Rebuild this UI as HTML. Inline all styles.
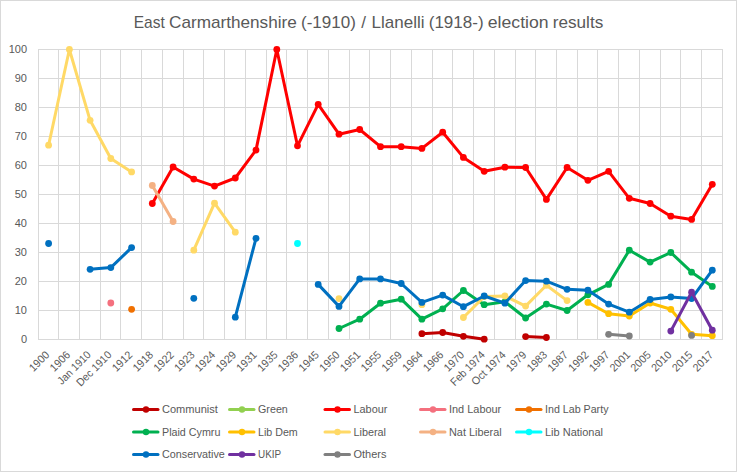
<!DOCTYPE html><html><head><meta charset="utf-8"><title>East Carmarthenshire / Llanelli election results</title><style>html,body{margin:0;padding:0;background:#fff;}svg{display:block;}text{font-family:"Liberation Sans", Arial, sans-serif;fill:#595959;}</style></head><body>
<svg width="737" height="472" viewBox="0 0 737 472">
<rect x="0.5" y="0.5" width="736" height="471" fill="#fff" stroke="#D9D9D9" stroke-width="1"/>
<text y="28" font-size="17"><tspan x="133.75" textLength="31.07" lengthAdjust="spacingAndGlyphs">East</tspan> <tspan x="169.04" textLength="127.79" lengthAdjust="spacingAndGlyphs">Carmarthenshire</tspan> <tspan x="301.04" textLength="54.85" lengthAdjust="spacingAndGlyphs">(-1910)</tspan> <tspan x="361.35">/</tspan> <tspan x="371.53" textLength="52.99" lengthAdjust="spacingAndGlyphs">Llanelli</tspan> <tspan x="428.74" textLength="54.85" lengthAdjust="spacingAndGlyphs">(1918-)</tspan> <tspan x="487.80" textLength="60.77" lengthAdjust="spacingAndGlyphs">election</tspan> <tspan x="552.79" textLength="50.47" lengthAdjust="spacingAndGlyphs">results</tspan></text>
<path d="M38.0 49.5H723.0 M38.0 78.5H723.0 M38.0 107.5H723.0 M38.0 136.5H723.0 M38.0 165.5H723.0 M38.0 194.5H723.0 M38.0 223.5H723.0 M38.0 252.5H723.0 M38.0 281.5H723.0 M38.0 310.5H723.0 M38.5 49V340 M58.5 49V340 M79.5 49V340 M100.5 49V340 M120.5 49V340 M141.5 49V340 M162.5 49V340 M183.5 49V340 M203.5 49V340 M224.5 49V340 M245.5 49V340 M266.5 49V340 M286.5 49V340 M307.5 49V340 M328.5 49V340 M349.5 49V340 M369.5 49V340 M390.5 49V340 M411.5 49V340 M432.5 49V340 M452.5 49V340 M473.5 49V340 M494.5 49V340 M515.5 49V340 M535.5 49V340 M556.5 49V340 M577.5 49V340 M597.5 49V340 M618.5 49V340 M639.5 49V340 M660.5 49V340 M680.5 49V340 M701.5 49V340 M722.5 49V340" stroke="#D9D9D9" stroke-width="1" fill="none"/>
<path d="M38.0 339.5H723.0" stroke="#D9D9D9" stroke-width="1" fill="none"/>
<text x="27" y="342.5" font-size="11" text-anchor="end">0</text>
<text x="27" y="313.5" font-size="11" text-anchor="end">10</text>
<text x="27" y="284.5" font-size="11" text-anchor="end">20</text>
<text x="27" y="255.5" font-size="11" text-anchor="end">30</text>
<text x="27" y="226.5" font-size="11" text-anchor="end">40</text>
<text x="27" y="197.5" font-size="11" text-anchor="end">50</text>
<text x="27" y="168.5" font-size="11" text-anchor="end">60</text>
<text x="27" y="139.5" font-size="11" text-anchor="end">70</text>
<text x="27" y="110.5" font-size="11" text-anchor="end">80</text>
<text x="27" y="81.5" font-size="11" text-anchor="end">90</text>
<text x="27" y="52.5" font-size="11" text-anchor="end">100</text>
<text x="50.1" y="355.5" font-size="11" text-anchor="end" textLength="23.53" lengthAdjust="spacingAndGlyphs" transform="rotate(-45 50.1 355.5)">1900</text>
<text x="70.9" y="355.5" font-size="11" text-anchor="end" textLength="23.53" lengthAdjust="spacingAndGlyphs" transform="rotate(-45 70.9 355.5)">1906</text>
<text x="91.6" y="355.5" font-size="11" text-anchor="end" textLength="42.12" lengthAdjust="spacingAndGlyphs" transform="rotate(-45 91.6 355.5)">Jan 1910</text>
<text x="112.3" y="355.5" font-size="11" text-anchor="end" textLength="44.67" lengthAdjust="spacingAndGlyphs" transform="rotate(-45 112.3 355.5)">Dec 1910</text>
<text x="133.1" y="355.5" font-size="11" text-anchor="end" textLength="23.53" lengthAdjust="spacingAndGlyphs" transform="rotate(-45 133.1 355.5)">1912</text>
<text x="153.8" y="355.5" font-size="11" text-anchor="end" textLength="23.53" lengthAdjust="spacingAndGlyphs" transform="rotate(-45 153.8 355.5)">1918</text>
<text x="174.6" y="355.5" font-size="11" text-anchor="end" textLength="23.53" lengthAdjust="spacingAndGlyphs" transform="rotate(-45 174.6 355.5)">1922</text>
<text x="195.3" y="355.5" font-size="11" text-anchor="end" textLength="23.53" lengthAdjust="spacingAndGlyphs" transform="rotate(-45 195.3 355.5)">1923</text>
<text x="216.0" y="355.5" font-size="11" text-anchor="end" textLength="23.53" lengthAdjust="spacingAndGlyphs" transform="rotate(-45 216.0 355.5)">1924</text>
<text x="236.8" y="355.5" font-size="11" text-anchor="end" textLength="23.53" lengthAdjust="spacingAndGlyphs" transform="rotate(-45 236.8 355.5)">1929</text>
<text x="257.5" y="355.5" font-size="11" text-anchor="end" textLength="23.53" lengthAdjust="spacingAndGlyphs" transform="rotate(-45 257.5 355.5)">1931</text>
<text x="278.3" y="355.5" font-size="11" text-anchor="end" textLength="23.53" lengthAdjust="spacingAndGlyphs" transform="rotate(-45 278.3 355.5)">1935</text>
<text x="299.0" y="355.5" font-size="11" text-anchor="end" textLength="23.53" lengthAdjust="spacingAndGlyphs" transform="rotate(-45 299.0 355.5)">1936</text>
<text x="319.7" y="355.5" font-size="11" text-anchor="end" textLength="23.53" lengthAdjust="spacingAndGlyphs" transform="rotate(-45 319.7 355.5)">1945</text>
<text x="340.5" y="355.5" font-size="11" text-anchor="end" textLength="23.53" lengthAdjust="spacingAndGlyphs" transform="rotate(-45 340.5 355.5)">1950</text>
<text x="361.2" y="355.5" font-size="11" text-anchor="end" textLength="23.53" lengthAdjust="spacingAndGlyphs" transform="rotate(-45 361.2 355.5)">1951</text>
<text x="382.0" y="355.5" font-size="11" text-anchor="end" textLength="23.53" lengthAdjust="spacingAndGlyphs" transform="rotate(-45 382.0 355.5)">1955</text>
<text x="402.7" y="355.5" font-size="11" text-anchor="end" textLength="23.53" lengthAdjust="spacingAndGlyphs" transform="rotate(-45 402.7 355.5)">1959</text>
<text x="423.4" y="355.5" font-size="11" text-anchor="end" textLength="23.53" lengthAdjust="spacingAndGlyphs" transform="rotate(-45 423.4 355.5)">1964</text>
<text x="444.2" y="355.5" font-size="11" text-anchor="end" textLength="23.53" lengthAdjust="spacingAndGlyphs" transform="rotate(-45 444.2 355.5)">1966</text>
<text x="464.9" y="355.5" font-size="11" text-anchor="end" textLength="23.53" lengthAdjust="spacingAndGlyphs" transform="rotate(-45 464.9 355.5)">1970</text>
<text x="485.7" y="355.5" font-size="11" text-anchor="end" textLength="43.85" lengthAdjust="spacingAndGlyphs" transform="rotate(-45 485.7 355.5)">Feb 1974</text>
<text x="506.4" y="355.5" font-size="11" text-anchor="end" textLength="43.28" lengthAdjust="spacingAndGlyphs" transform="rotate(-45 506.4 355.5)">Oct 1974</text>
<text x="527.1" y="355.5" font-size="11" text-anchor="end" textLength="23.53" lengthAdjust="spacingAndGlyphs" transform="rotate(-45 527.1 355.5)">1979</text>
<text x="547.9" y="355.5" font-size="11" text-anchor="end" textLength="23.53" lengthAdjust="spacingAndGlyphs" transform="rotate(-45 547.9 355.5)">1983</text>
<text x="568.6" y="355.5" font-size="11" text-anchor="end" textLength="23.53" lengthAdjust="spacingAndGlyphs" transform="rotate(-45 568.6 355.5)">1987</text>
<text x="589.4" y="355.5" font-size="11" text-anchor="end" textLength="23.53" lengthAdjust="spacingAndGlyphs" transform="rotate(-45 589.4 355.5)">1992</text>
<text x="610.1" y="355.5" font-size="11" text-anchor="end" textLength="23.53" lengthAdjust="spacingAndGlyphs" transform="rotate(-45 610.1 355.5)">1997</text>
<text x="630.8" y="355.5" font-size="11" text-anchor="end" textLength="23.53" lengthAdjust="spacingAndGlyphs" transform="rotate(-45 630.8 355.5)">2001</text>
<text x="651.6" y="355.5" font-size="11" text-anchor="end" textLength="23.53" lengthAdjust="spacingAndGlyphs" transform="rotate(-45 651.6 355.5)">2005</text>
<text x="672.3" y="355.5" font-size="11" text-anchor="end" textLength="23.53" lengthAdjust="spacingAndGlyphs" transform="rotate(-45 672.3 355.5)">2010</text>
<text x="693.1" y="355.5" font-size="11" text-anchor="end" textLength="23.53" lengthAdjust="spacingAndGlyphs" transform="rotate(-45 693.1 355.5)">2015</text>
<text x="713.8" y="355.5" font-size="11" text-anchor="end" textLength="23.53" lengthAdjust="spacingAndGlyphs" transform="rotate(-45 713.8 355.5)">2017</text>
<path d="M421.9 333.7 L442.7 332.5 L463.4 336.3 L484.2 339.2 M525.6 336.6 L546.4 337.5" stroke="#C00000" stroke-width="3" fill="none" stroke-linejoin="round" stroke-linecap="round"/>
<circle cx="421.9" cy="333.7" r="3.4" fill="#C00000"/>
<circle cx="442.7" cy="332.5" r="3.4" fill="#C00000"/>
<circle cx="463.4" cy="336.3" r="3.4" fill="#C00000"/>
<circle cx="484.2" cy="339.2" r="3.4" fill="#C00000"/>
<circle cx="525.6" cy="336.6" r="3.4" fill="#C00000"/>
<circle cx="546.4" cy="337.5" r="3.4" fill="#C00000"/>
<path d="M152.3 203.5 L173.1 167.0 L193.8 179.1 L214.5 186.1 L235.3 178.0 L256.0 150.1 L276.8 49.5 L297.5 145.8 L318.2 104.3 L339.0 134.2 L359.7 129.5 L380.5 146.7 L401.2 146.7 L421.9 148.4 L442.7 132.2 L463.4 157.4 L484.2 171.3 L504.9 167.2 L525.6 167.5 L546.4 199.4 L567.1 167.5 L587.9 180.3 L608.6 171.3 L629.3 198.3 L650.1 203.5 L670.8 216.2 L691.6 219.4 L712.3 184.3" stroke="#FF0000" stroke-width="3" fill="none" stroke-linejoin="round" stroke-linecap="round"/>
<circle cx="152.3" cy="203.5" r="3.4" fill="#FF0000"/>
<circle cx="173.1" cy="167.0" r="3.4" fill="#FF0000"/>
<circle cx="193.8" cy="179.1" r="3.4" fill="#FF0000"/>
<circle cx="214.5" cy="186.1" r="3.4" fill="#FF0000"/>
<circle cx="235.3" cy="178.0" r="3.4" fill="#FF0000"/>
<circle cx="256.0" cy="150.1" r="3.4" fill="#FF0000"/>
<circle cx="276.8" cy="49.5" r="3.4" fill="#FF0000"/>
<circle cx="297.5" cy="145.8" r="3.4" fill="#FF0000"/>
<circle cx="318.2" cy="104.3" r="3.4" fill="#FF0000"/>
<circle cx="339.0" cy="134.2" r="3.4" fill="#FF0000"/>
<circle cx="359.7" cy="129.5" r="3.4" fill="#FF0000"/>
<circle cx="380.5" cy="146.7" r="3.4" fill="#FF0000"/>
<circle cx="401.2" cy="146.7" r="3.4" fill="#FF0000"/>
<circle cx="421.9" cy="148.4" r="3.4" fill="#FF0000"/>
<circle cx="442.7" cy="132.2" r="3.4" fill="#FF0000"/>
<circle cx="463.4" cy="157.4" r="3.4" fill="#FF0000"/>
<circle cx="484.2" cy="171.3" r="3.4" fill="#FF0000"/>
<circle cx="504.9" cy="167.2" r="3.4" fill="#FF0000"/>
<circle cx="525.6" cy="167.5" r="3.4" fill="#FF0000"/>
<circle cx="546.4" cy="199.4" r="3.4" fill="#FF0000"/>
<circle cx="567.1" cy="167.5" r="3.4" fill="#FF0000"/>
<circle cx="587.9" cy="180.3" r="3.4" fill="#FF0000"/>
<circle cx="608.6" cy="171.3" r="3.4" fill="#FF0000"/>
<circle cx="629.3" cy="198.3" r="3.4" fill="#FF0000"/>
<circle cx="650.1" cy="203.5" r="3.4" fill="#FF0000"/>
<circle cx="670.8" cy="216.2" r="3.4" fill="#FF0000"/>
<circle cx="691.6" cy="219.4" r="3.4" fill="#FF0000"/>
<circle cx="712.3" cy="184.3" r="3.4" fill="#FF0000"/>
<circle cx="110.8" cy="303.0" r="3.4" fill="#F4707E"/>
<circle cx="131.6" cy="309.3" r="3.4" fill="#F07000"/>
<path d="M339.0 328.5 L359.7 319.2 L380.5 303.2 L401.2 299.2 L421.9 319.2 L442.7 308.8 L463.4 290.5 L484.2 304.7 L504.9 301.8 L525.6 318.0 L546.4 304.1 L567.1 310.5 L587.9 294.8 L608.6 284.4 L629.3 250.2 L650.1 262.1 L670.8 252.5 L691.6 272.2 L712.3 286.4" stroke="#00B050" stroke-width="3" fill="none" stroke-linejoin="round" stroke-linecap="round"/>
<circle cx="339.0" cy="328.5" r="3.4" fill="#00B050"/>
<circle cx="359.7" cy="319.2" r="3.4" fill="#00B050"/>
<circle cx="380.5" cy="303.2" r="3.4" fill="#00B050"/>
<circle cx="401.2" cy="299.2" r="3.4" fill="#00B050"/>
<circle cx="421.9" cy="319.2" r="3.4" fill="#00B050"/>
<circle cx="442.7" cy="308.8" r="3.4" fill="#00B050"/>
<circle cx="463.4" cy="290.5" r="3.4" fill="#00B050"/>
<circle cx="484.2" cy="304.7" r="3.4" fill="#00B050"/>
<circle cx="504.9" cy="301.8" r="3.4" fill="#00B050"/>
<circle cx="525.6" cy="318.0" r="3.4" fill="#00B050"/>
<circle cx="546.4" cy="304.1" r="3.4" fill="#00B050"/>
<circle cx="567.1" cy="310.5" r="3.4" fill="#00B050"/>
<circle cx="587.9" cy="294.8" r="3.4" fill="#00B050"/>
<circle cx="608.6" cy="284.4" r="3.4" fill="#00B050"/>
<circle cx="629.3" cy="250.2" r="3.4" fill="#00B050"/>
<circle cx="650.1" cy="262.1" r="3.4" fill="#00B050"/>
<circle cx="670.8" cy="252.5" r="3.4" fill="#00B050"/>
<circle cx="691.6" cy="272.2" r="3.4" fill="#00B050"/>
<circle cx="712.3" cy="286.4" r="3.4" fill="#00B050"/>
<path d="M587.9 302.4 L608.6 313.7 L629.3 316.0 L650.1 303.0 L670.8 309.3 L691.6 334.3 L712.3 335.7" stroke="#FFC000" stroke-width="3" fill="none" stroke-linejoin="round" stroke-linecap="round"/>
<circle cx="587.9" cy="302.4" r="3.4" fill="#FFC000"/>
<circle cx="608.6" cy="313.7" r="3.4" fill="#FFC000"/>
<circle cx="629.3" cy="316.0" r="3.4" fill="#FFC000"/>
<circle cx="650.1" cy="303.0" r="3.4" fill="#FFC000"/>
<circle cx="670.8" cy="309.3" r="3.4" fill="#FFC000"/>
<circle cx="691.6" cy="334.3" r="3.4" fill="#FFC000"/>
<circle cx="712.3" cy="335.7" r="3.4" fill="#FFC000"/>
<path d="M48.6 145.2 L69.4 49.5 L90.1 120.3 L110.8 158.5 L131.6 171.9 M193.8 250.2 L214.5 203.2 L235.3 232.2 M463.4 317.5 L484.2 296.6 L504.9 296.0 L525.6 306.1 L546.4 285.3 L567.1 300.6" stroke="#FFD966" stroke-width="3" fill="none" stroke-linejoin="round" stroke-linecap="round"/>
<circle cx="48.6" cy="145.2" r="3.4" fill="#FFD966"/>
<circle cx="69.4" cy="49.5" r="3.4" fill="#FFD966"/>
<circle cx="90.1" cy="120.3" r="3.4" fill="#FFD966"/>
<circle cx="110.8" cy="158.5" r="3.4" fill="#FFD966"/>
<circle cx="131.6" cy="171.9" r="3.4" fill="#FFD966"/>
<circle cx="193.8" cy="250.2" r="3.4" fill="#FFD966"/>
<circle cx="214.5" cy="203.2" r="3.4" fill="#FFD966"/>
<circle cx="235.3" cy="232.2" r="3.4" fill="#FFD966"/>
<circle cx="339.0" cy="298.6" r="3.4" fill="#FFD966"/>
<circle cx="421.9" cy="304.7" r="3.4" fill="#FFD966"/>
<circle cx="463.4" cy="317.5" r="3.4" fill="#FFD966"/>
<circle cx="484.2" cy="296.6" r="3.4" fill="#FFD966"/>
<circle cx="504.9" cy="296.0" r="3.4" fill="#FFD966"/>
<circle cx="525.6" cy="306.1" r="3.4" fill="#FFD966"/>
<circle cx="546.4" cy="285.3" r="3.4" fill="#FFD966"/>
<circle cx="567.1" cy="300.6" r="3.4" fill="#FFD966"/>
<path d="M152.3 185.5 L173.1 221.5" stroke="#F4B183" stroke-width="3" fill="none" stroke-linejoin="round" stroke-linecap="round"/>
<circle cx="152.3" cy="185.5" r="3.4" fill="#F4B183"/>
<circle cx="173.1" cy="221.5" r="3.4" fill="#F4B183"/>
<circle cx="297.5" cy="243.5" r="3.4" fill="#00FFFF"/>
<path d="M90.1 269.3 L110.8 267.6 L131.6 247.6 M235.3 317.2 L256.0 238.3 M318.2 284.4 L339.0 306.4 L359.7 278.9 L380.5 278.9 L401.2 283.5 L421.9 302.4 L442.7 295.1 L463.4 306.7 L484.2 296.0 L504.9 303.2 L525.6 280.6 L546.4 281.2 L567.1 289.3 L587.9 290.2 L608.6 304.1 L629.3 312.2 L650.1 299.5 L670.8 296.9 L691.6 298.6 L712.3 270.2" stroke="#0070C0" stroke-width="3" fill="none" stroke-linejoin="round" stroke-linecap="round"/>
<circle cx="48.6" cy="243.5" r="3.4" fill="#0070C0"/>
<circle cx="90.1" cy="269.3" r="3.4" fill="#0070C0"/>
<circle cx="110.8" cy="267.6" r="3.4" fill="#0070C0"/>
<circle cx="131.6" cy="247.6" r="3.4" fill="#0070C0"/>
<circle cx="193.8" cy="298.3" r="3.4" fill="#0070C0"/>
<circle cx="235.3" cy="317.2" r="3.4" fill="#0070C0"/>
<circle cx="256.0" cy="238.3" r="3.4" fill="#0070C0"/>
<circle cx="318.2" cy="284.4" r="3.4" fill="#0070C0"/>
<circle cx="339.0" cy="306.4" r="3.4" fill="#0070C0"/>
<circle cx="359.7" cy="278.9" r="3.4" fill="#0070C0"/>
<circle cx="380.5" cy="278.9" r="3.4" fill="#0070C0"/>
<circle cx="401.2" cy="283.5" r="3.4" fill="#0070C0"/>
<circle cx="421.9" cy="302.4" r="3.4" fill="#0070C0"/>
<circle cx="442.7" cy="295.1" r="3.4" fill="#0070C0"/>
<circle cx="463.4" cy="306.7" r="3.4" fill="#0070C0"/>
<circle cx="484.2" cy="296.0" r="3.4" fill="#0070C0"/>
<circle cx="504.9" cy="303.2" r="3.4" fill="#0070C0"/>
<circle cx="525.6" cy="280.6" r="3.4" fill="#0070C0"/>
<circle cx="546.4" cy="281.2" r="3.4" fill="#0070C0"/>
<circle cx="567.1" cy="289.3" r="3.4" fill="#0070C0"/>
<circle cx="587.9" cy="290.2" r="3.4" fill="#0070C0"/>
<circle cx="608.6" cy="304.1" r="3.4" fill="#0070C0"/>
<circle cx="629.3" cy="312.2" r="3.4" fill="#0070C0"/>
<circle cx="650.1" cy="299.5" r="3.4" fill="#0070C0"/>
<circle cx="670.8" cy="296.9" r="3.4" fill="#0070C0"/>
<circle cx="691.6" cy="298.6" r="3.4" fill="#0070C0"/>
<circle cx="712.3" cy="270.2" r="3.4" fill="#0070C0"/>
<path d="M670.8 331.1 L691.6 292.2 L712.3 330.2" stroke="#7030A0" stroke-width="3" fill="none" stroke-linejoin="round" stroke-linecap="round"/>
<circle cx="670.8" cy="331.1" r="3.4" fill="#7030A0"/>
<circle cx="691.6" cy="292.2" r="3.4" fill="#7030A0"/>
<circle cx="712.3" cy="330.2" r="3.4" fill="#7030A0"/>
<path d="M608.6 334.3 L629.3 336.0" stroke="#808080" stroke-width="3" fill="none" stroke-linejoin="round" stroke-linecap="round"/>
<circle cx="608.6" cy="334.3" r="3.4" fill="#808080"/>
<circle cx="629.3" cy="336.0" r="3.4" fill="#808080"/>
<circle cx="691.6" cy="335.4" r="3.4" fill="#808080"/>
<path d="M133.5 409.5H158" stroke="#C00000" stroke-width="3" stroke-linecap="round"/>
<circle cx="146.0" cy="409.5" r="3.2" fill="#C00000"/>
<text x="162.0" y="413.3" font-size="11" textLength="55.84" lengthAdjust="spacingAndGlyphs">Communist</text>
<path d="M229.5 409.5H254" stroke="#92D050" stroke-width="3" stroke-linecap="round"/>
<circle cx="242.0" cy="409.5" r="3.2" fill="#92D050"/>
<text x="258.0" y="413.3" font-size="11" textLength="29.84" lengthAdjust="spacingAndGlyphs">Green</text>
<path d="M325.0 409.5H349.5" stroke="#FF0000" stroke-width="3" stroke-linecap="round"/>
<circle cx="337.5" cy="409.5" r="3.2" fill="#FF0000"/>
<text x="353.5" y="413.3" font-size="11" textLength="33.91" lengthAdjust="spacingAndGlyphs">Labour</text>
<path d="M420.5 409.5H445" stroke="#F4707E" stroke-width="3" stroke-linecap="round"/>
<circle cx="433.0" cy="409.5" r="3.2" fill="#F4707E"/>
<text x="449.0" y="413.3" font-size="11" textLength="52.26" lengthAdjust="spacingAndGlyphs">Ind Labour</text>
<path d="M516.5 409.5H541" stroke="#F07000" stroke-width="3" stroke-linecap="round"/>
<circle cx="529.0" cy="409.5" r="3.2" fill="#F07000"/>
<text x="545.0" y="413.3" font-size="11" textLength="63.48" lengthAdjust="spacingAndGlyphs">Ind Lab Party</text>
<path d="M133.5 432H158" stroke="#00B050" stroke-width="3" stroke-linecap="round"/>
<circle cx="146.0" cy="432.0" r="3.2" fill="#00B050"/>
<text x="162.0" y="435.8" font-size="11" textLength="58.38" lengthAdjust="spacingAndGlyphs">Plaid Cymru</text>
<path d="M229.5 432H254" stroke="#FFC000" stroke-width="3" stroke-linecap="round"/>
<circle cx="242.0" cy="432.0" r="3.2" fill="#FFC000"/>
<text x="258.0" y="435.8" font-size="11" textLength="39.76" lengthAdjust="spacingAndGlyphs">Lib Dem</text>
<path d="M325.0 432H349.5" stroke="#FFD966" stroke-width="3" stroke-linecap="round"/>
<circle cx="337.5" cy="432.0" r="3.2" fill="#FFD966"/>
<text x="353.5" y="435.8" font-size="11" textLength="32.51" lengthAdjust="spacingAndGlyphs">Liberal</text>
<path d="M420.5 432H445" stroke="#F4B183" stroke-width="3" stroke-linecap="round"/>
<circle cx="433.0" cy="432.0" r="3.2" fill="#F4B183"/>
<text x="449.0" y="435.8" font-size="11" textLength="52.63" lengthAdjust="spacingAndGlyphs">Nat Liberal</text>
<path d="M516.5 432H541" stroke="#00FFFF" stroke-width="3" stroke-linecap="round"/>
<circle cx="529.0" cy="432.0" r="3.2" fill="#00FFFF"/>
<text x="545.0" y="435.8" font-size="11" textLength="58.02" lengthAdjust="spacingAndGlyphs">Lib National</text>
<path d="M133.5 454.5H158" stroke="#0070C0" stroke-width="3" stroke-linecap="round"/>
<circle cx="146.0" cy="454.5" r="3.2" fill="#0070C0"/>
<text x="162.0" y="458.3" font-size="11" textLength="62.83" lengthAdjust="spacingAndGlyphs">Conservative</text>
<path d="M229.5 454.5H254" stroke="#7030A0" stroke-width="3" stroke-linecap="round"/>
<circle cx="242.0" cy="454.5" r="3.2" fill="#7030A0"/>
<text x="258.0" y="458.3" font-size="11" textLength="23.16" lengthAdjust="spacingAndGlyphs">UKIP</text>
<path d="M325.0 454.5H349.5" stroke="#808080" stroke-width="3" stroke-linecap="round"/>
<circle cx="337.5" cy="454.5" r="3.2" fill="#808080"/>
<text x="353.5" y="458.3" font-size="11" textLength="32.91" lengthAdjust="spacingAndGlyphs">Others</text>
</svg></body></html>
